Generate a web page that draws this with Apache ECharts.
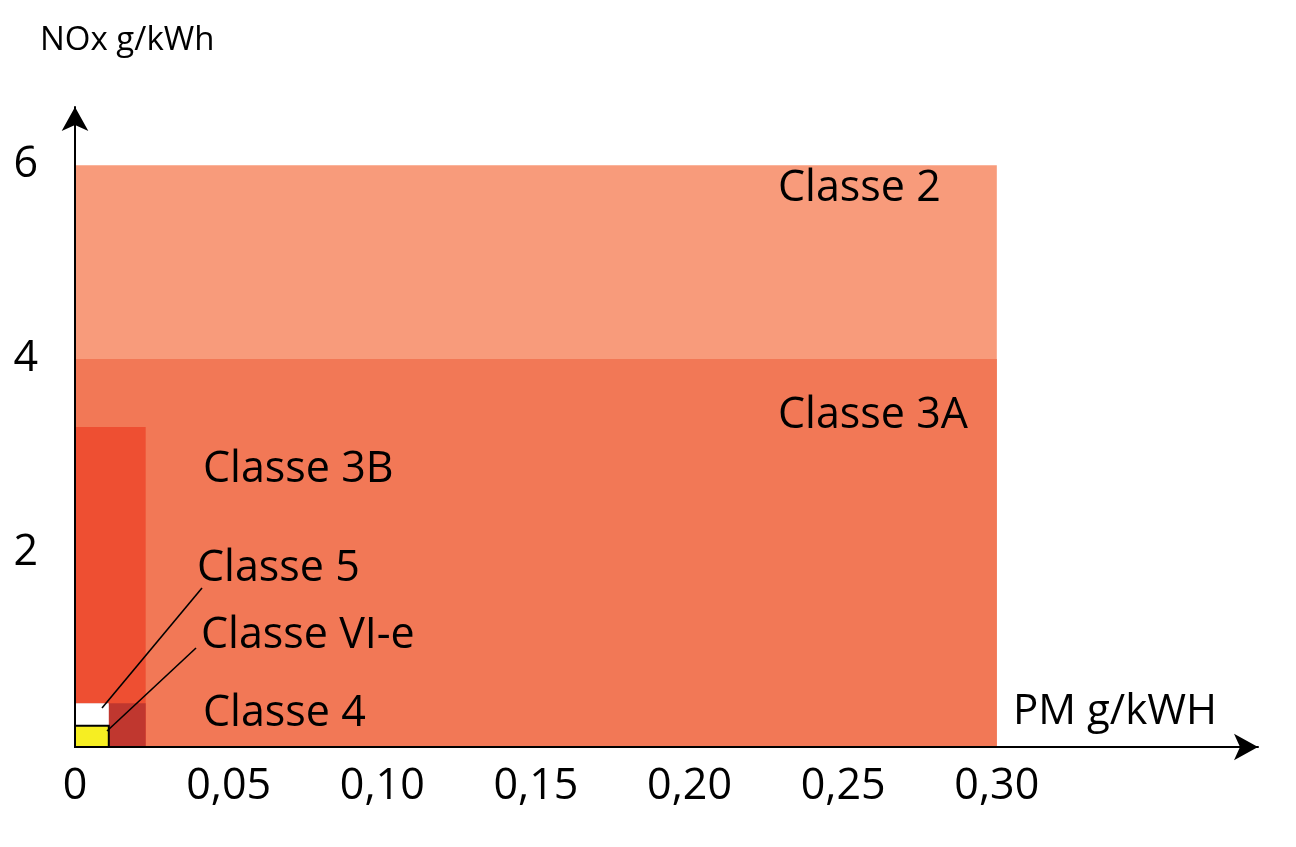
<!DOCTYPE html>
<html>
<head>
<meta charset="utf-8">
<script src="https://cdn.jsdelivr.net/npm/echarts@6/dist/echarts.min.js"></script>
<style>
    html, body {margin: 0; padding: 0; background: #fff;}
    #main {width: 1296px; height: 847px;}
</style>
</head>
<body>
<div id="main"></div>
<script>
var classNames = ['Classe 2', 'Classe 3A', 'Classe 3B', 'Classe 4', 'Classe 5', 'Classe VI-e'],
    pmLimit = [0.30, 0.30, 0.023, 0.023, 0.011, 0.011],
    noxLimit = [6, 4, 3.3, 0.45, 0.45, 0.22],
    pmTicks = [0, 0.05, 0.10, 0.15, 0.20, 0.25, 0.30],
    noxTicks = [2, 4, 6];

var classColors = ['#f89b7b', '#f27856', '#ee4f32', '#c0372f', '#ffffff', '#f6ee22'],
    font = '"Open Sans", "Noto Sans", sans-serif';

/*标签位置（像素，y为基线）*/
function label(text, x, y, size) {
    return {
        type: 'text',
        left: x,
        top: y - size * 0.87,
        z: 10,
        style: {text: text, font: size + 'px ' + font, fill: '#000'}
    };
}

function leader(x1, y1, x2, y2) {
    return {
        type: 'line',
        z: 10,
        shape: {x1: x1, y1: y1, x2: x2, y2: y2},
        style: {stroke: '#000', lineWidth: 1.6}
    };
}

function hasTick(list, v) {
    for (var i = 0; i < list.length; i++) {
        if (Math.abs(list[i] - v) < 1e-6) return true;
    }
    return false;
}

var boxes = [];
for (var i = 0; i < classNames.length; i++) {
    boxes.push({name: classNames[i], value: [0, pmLimit[i], 0, noxLimit[i]]});
}

var myChart = echarts.init(document.getElementById('main'));
var option = {
    animation: false,
    grid: {left: 75, right: 38, top: 107, bottom: 100},
    xAxis: {
        type: 'value',
        min: 0,
        max: 0.385,
        interval: 0.05,
        z: 5,
        splitLine: {show: false},
        axisTick: {show: false},
        axisLine: {
            show: true,
            lineStyle: {color: '#000', width: 2},
            symbol: ['none', 'arrow'],
            symbolSize: [20, 24]
        },
        axisLabel: {
            margin: 18,
            fontFamily: font,
            fontSize: 43,
            color: '#000',
            showMaxLabel: false,
            formatter: function (v) {
                if (!hasTick(pmTicks, v)) return '';
                return v === 0 ? '0' : v.toFixed(2).replace('.', ',');
            }
        }
    },
    yAxis: {
        type: 'value',
        min: 0,
        max: 6.6,
        interval: 2,
        z: 5,
        splitLine: {show: false},
        axisTick: {show: false},
        axisLine: {
            show: true,
            lineStyle: {color: '#000', width: 2},
            symbol: ['none', 'arrow'],
            symbolSize: [20, 24]
        },
        axisLabel: {
            margin: 37,
            fontFamily: font,
            fontSize: 43,
            color: '#000',
            showMaxLabel: false,
            formatter: function (v) {
                return hasTick(noxTicks, v) ? String(v) : '';
            }
        }
    },
    series: [{
        type: 'custom',
        z: 2,
        data: boxes,
        renderItem: function (params, api) {
            var p0 = api.coord([api.value(0), api.value(3)]),
                p1 = api.coord([api.value(1), api.value(2)]),
                idx = params.dataIndex,
                last = idx === classNames.length - 1;
            return {
                type: 'rect',
                shape: {x: p0[0], y: p0[1], width: p1[0] - p0[0], height: p1[1] - p0[1]},
                style: {
                    fill: classColors[idx],
                    stroke: last ? '#000' : null,
                    lineWidth: last ? 2 : 0
                }
            };
        }
    }],
    graphic: [
        label('NOx g/kWh', 40, 53, 33),
        label('PM g/kWH', 1013, 728, 42),
        label(classNames[0], 778, 205, 43),
        label(classNames[1], 778, 432, 43),
        label(classNames[2], 203, 486, 43),
        label(classNames[4], 197, 585, 43),
        label(classNames[5], 201, 652, 43),
        label(classNames[3], 203, 730, 43),
        leader(202, 588, 102, 708),
        leader(196, 648, 107, 731)
    ]
};
myChart.setOption(option);
</script>
</body>
</html>
